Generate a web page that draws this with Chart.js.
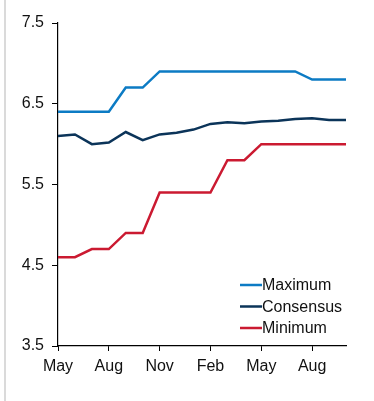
<!DOCTYPE html>
<html>
<head>
<meta charset="utf-8">
<script src="https://cdn.jsdelivr.net/npm/chart.js@4/dist/chart.umd.min.js"></script>
<style>
  html, body { margin: 0; padding: 0; background: #fff; }
  #wrap { position: relative; width: 374px; height: 401px; }
  #edge { position: absolute; left: 4px; top: 0; width: 2px; height: 401px; background: #dadada; }
  canvas { position: absolute; left: 0; top: 0; }
</style>
</head>
<body>
<div id="wrap">
  <div id="edge"></div>
  <canvas id="c" width="374" height="401"></canvas>
</div>
<script>
// Monthly survey months (May through October of the following year)
const months = ["May", "Jun", "Jul", "Aug", "Sep", "Oct", "Nov", "Dec", "Jan",
                "Feb", "Mar", "Apr", "May", "Jun", "Jul", "Aug", "Sep", "Oct"];

const maximum   = [6.4, 6.4, 6.4, 6.4, 6.7, 6.7, 6.9, 6.9, 6.9,
                   6.9, 6.9, 6.9, 6.9, 6.9, 6.9, 6.8, 6.8, 6.8];
const consensus = [6.10, 6.12, 6.00, 6.02, 6.15, 6.05, 6.12, 6.14, 6.18,
                   6.25, 6.27, 6.26, 6.28, 6.29, 6.31, 6.32, 6.30, 6.30];
const minimum   = [4.6, 4.6, 4.7, 4.7, 4.9, 4.9, 5.4, 5.4, 5.4,
                   5.4, 5.8, 5.8, 6.0, 6.0, 6.0, 6.0, 6.0, 6.0];

const seriesNames = ["Maximum", "Consensus", "Minimum"];
const yTicks = [3.5, 4.5, 5.5, 6.5, 7.5];

const FONT = "'Liberation Sans', Arial, sans-serif";
const colors = ["#0c7bc4", "#0b3459", "#cb1a31"];

// Legend drawn inside the plot, lower right
const insideLegend = {
  id: "insideLegend",
  afterDraw(chart) {
    const ctx = chart.ctx;
    ctx.save();
    ctx.font = "16px " + FONT;
    ctx.textBaseline = "middle";
    ctx.textAlign = "left";
    chart.data.datasets.forEach((ds, i) => {
      const y = 285 + i * 21.5;
      ctx.strokeStyle = ds.borderColor;
      ctx.lineWidth = 2.5;
      ctx.beginPath();
      ctx.moveTo(240, y);
      ctx.lineTo(262, y);
      ctx.stroke();
      ctx.fillStyle = "#111";
      ctx.fillText(ds.label, 262, y + 1);
    });
    ctx.restore();
  }
};

new Chart(document.getElementById("c"), {
  type: "line",
  data: {
    labels: months,
    datasets: [
      { label: seriesNames[0], data: maximum,   borderColor: colors[0] },
      { label: seriesNames[1], data: consensus, borderColor: colors[1] },
      { label: seriesNames[2], data: minimum,   borderColor: colors[2] }
    ].map(d => Object.assign(d, {
      borderWidth: 2.5, pointRadius: 0, tension: 0, fill: false,
      backgroundColor: d.borderColor
    }))
  },
  options: {
    responsive: false,
    animation: false,
    devicePixelRatio: 1,
    layout: { padding: { left: 0, right: 28, top: 23, bottom: 0 } },
    plugins: { legend: { display: false }, tooltip: { enabled: false } },
    scales: {
      x: {
        type: "category",
        offset: false,
        border: { display: true, color: "#000", width: 1.2 },
        grid: { drawOnChartArea: false, drawTicks: true, tickLength: 5, color: "#000", lineWidth: 1 },
        ticks: {
          autoSkip: false, maxRotation: 0, padding: 6,
          color: "#111", font: { family: FONT, size: 16 },
          callback: (v, i) => (i % 3 === 0 ? months[i] : null)
        },
        afterFit: s => { s.height = 55; }
      },
      y: {
        min: 3.5, max: 7.5,
        afterBuildTicks: s => { s.ticks = yTicks.map(v => ({ value: v })); },
        border: { display: true, color: "#000", width: 1.2 },
        grid: { drawOnChartArea: false, drawTicks: true, tickLength: 6, color: "#000", lineWidth: 1 },
        ticks: {
          padding: 8, color: "#111", font: { family: FONT, size: 16 },
          callback: v => Number(v).toFixed(1)
        },
        afterFit: s => { s.width = 58; }
      }
    }
  },
  plugins: [insideLegend]
});
</script>
</body>
</html>
